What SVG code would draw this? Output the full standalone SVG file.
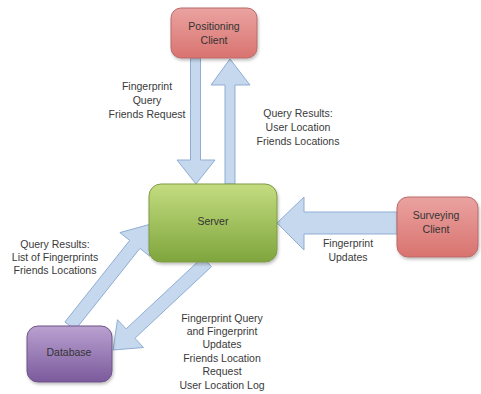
<svg xmlns="http://www.w3.org/2000/svg" width="481" height="394" viewBox="0 0 481 394">
  <defs>
    <linearGradient id="gRed" x1="0" y1="0" x2="0" y2="1">
      <stop offset="0" stop-color="#eaa3a1"/>
      <stop offset="1" stop-color="#d9736f"/>
    </linearGradient>
    <linearGradient id="gGreen" x1="0" y1="0" x2="0" y2="1">
      <stop offset="0" stop-color="#c3dc7f"/>
      <stop offset="1" stop-color="#7fa53d"/>
    </linearGradient>
    <linearGradient id="gPurple" x1="0" y1="0" x2="0" y2="1">
      <stop offset="0" stop-color="#b9a1d0"/>
      <stop offset="1" stop-color="#7b5a9c"/>
    </linearGradient>
    <filter id="sh" x="-10%" y="-10%" width="130%" height="140%">
      <feDropShadow dx="1" dy="2" stdDeviation="1.5" flood-color="#000" flood-opacity="0.25"/>
    </filter>
    <style>
      .arrow { fill: #c6d8ee; stroke: #8fadd3; stroke-width: 1; }
      .lbl { font-family: "Liberation Sans", Arial, sans-serif; font-size: 10.5px; fill: #3a3a3a; text-anchor: middle; }
      .ntxt { font-family: "Liberation Sans", Arial, sans-serif; font-size: 10.5px; fill: #333333; text-anchor: middle; }
    </style>
  </defs>
  <rect width="481" height="394" fill="#ffffff"/>

  <g id="connectors">
    <!-- Positioning -> Server (down) -->
    <polygon class="arrow" points="190.5,58 200.5,58 200.5,160 215,160 196,184 177,160 190.5,160"/>
    <!-- Server -> Positioning (up) -->
    <polygon class="arrow" points="225,184 235,184 235,85 250,85 230,59 211,85 225,85"/>
    <!-- Surveying -> Server (left) -->
    <polygon class="arrow" points="397,212 304,212 304,197 277,223 304,250 304,234 397,234"/>
    <!-- Database -> Server (up-right) -->
    <polygon class="arrow" points="64.9,322 129.7,240.4 119.9,232.6 151,224 149.7,256.2 139.9,248.4 75.1,330"/>
    <!-- Server -> Database (down-left) -->
    <polygon class="arrow" points="202.6,257.3 126.1,328.9 117.5,319.7 113,350 143.5,347.5 134.9,338.3 211.4,266.7"/>
  </g>

  <g id="positioning-client">
    <rect x="171" y="8" width="86" height="50" rx="10" fill="url(#gRed)" stroke="#b86a6a" stroke-width="1" filter="url(#sh)"/>
    <text class="ntxt" x="214" y="30">Positioning</text>
    <text class="ntxt" x="214" y="44">Client</text>
  </g>

  <g id="server">
    <rect x="149" y="184" width="128" height="78" rx="12" fill="url(#gGreen)" stroke="#7e9a48" stroke-width="1" filter="url(#sh)"/>
    <text class="ntxt" x="213" y="225">Server</text>
  </g>

  <g id="surveying-client">
    <rect x="397" y="197" width="81" height="60" rx="11" fill="url(#gRed)" stroke="#b86a6a" stroke-width="1" filter="url(#sh)"/>
    <text class="ntxt" x="436" y="219">Surveying</text>
    <text class="ntxt" x="436" y="233">Client</text>
  </g>

  <g id="database">
    <rect x="27" y="326" width="85" height="56" rx="11" fill="url(#gPurple)" stroke="#6e5488" stroke-width="1" filter="url(#sh)"/>
    <text class="ntxt" x="69" y="356">Database</text>
  </g>

  <g id="labels">
    <text class="lbl" x="147" y="90">Fingerprint</text>
    <text class="lbl" x="147" y="104">Query</text>
    <text class="lbl" x="147" y="118">Friends Request</text>

    <text class="lbl" x="298" y="117">Query Results:</text>
    <text class="lbl" x="298" y="131">User Location</text>
    <text class="lbl" x="298" y="145">Friends Locations</text>

    <text class="lbl" x="348" y="247">Fingerprint</text>
    <text class="lbl" x="348" y="261">Updates</text>

    <text class="lbl" x="55" y="248">Query Results:</text>
    <text class="lbl" x="55" y="261">List of Fingerprints</text>
    <text class="lbl" x="55" y="274">Friends Locations</text>

    <text class="lbl" x="222" y="322">Fingerprint Query</text>
    <text class="lbl" x="222" y="335">and Fingerprint</text>
    <text class="lbl" x="222" y="348">Updates</text>
    <text class="lbl" x="222" y="362">Friends Location</text>
    <text class="lbl" x="222" y="375">Request</text>
    <text class="lbl" x="222" y="389">User Location Log</text>
  </g>
</svg>
